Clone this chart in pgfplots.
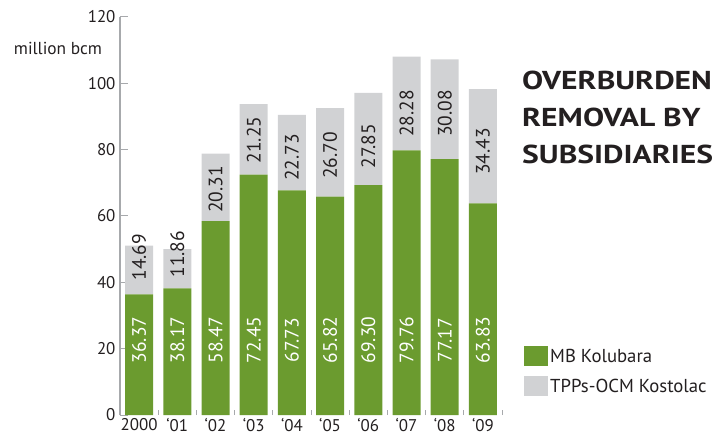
\documentclass[border=0pt]{standalone}
\usepackage{pgfplots}
\pgfplotsset{compat=1.18}
\usepackage{fontspec}
\setmainfont{PT Sans}
\newfontfamily\titlefont[FakeStretch=1.22]{PT Sans}
\definecolor{grn}{HTML}{6B9B2F}
\definecolor{gry}{HTML}{D1D2D4}
\definecolor{axg}{HTML}{A7A9AC}
\definecolor{txt}{HTML}{231F20}
\pgfplotstableread{
x green gray
0 36.37 14.69
1 38.17 11.86
2 58.47 20.31
3 72.45 21.25
4 67.73 22.73
5 65.82 26.70
6 69.30 27.85
7 79.76 28.28
8 77.17 30.08
9 63.83 34.43
}\datatab
\pgfplotstableread{
x y l
0 22.6 36.37
1 22.6 38.17
2 22.6 58.47
3 22.6 72.45
4 22.6 67.73
5 22.6 65.82
6 22.6 69.30
7 22.6 79.76
8 22.6 77.17
9 22.6 63.83
}\greenlab
\pgfplotstableread{
x y l
0 47.6 14.69
1 48.5 11.86
2 68.0 20.31
3 82.9 21.25
4 77.6 22.73
5 78.2 26.70
6 81.1 27.85
7 90.9 28.28
8 90.9 30.08
9 79.4 34.43
}\graylab
\begin{document}
\begin{tikzpicture}
\useasboundingbox (-120bp,-20bp) rectangle (593bp,415bp);
\begin{axis}[
  at={(0,0)}, anchor=south west,
  scale only axis, width=382bp, height=398bp,
  xmin=-0.5, xmax=9.5, ymin=0, ymax=120,
  ybar stacked, bar width=28bp,
  axis lines*=left,
  x axis line style={draw=none},
  y axis line style={axg, line width=1.5bp},
  xtick={0,...,9},
  xticklabels={2000,‘01,‘02,‘03,‘04,‘05,‘06,‘07,‘08,‘09},
  major x tick style={draw=none},
  minor xtick={0.5,1.5,...,9.5},
  minor x tick style={axg, line width=1bp},
  minor tick length=5bp,
  ytick={0,20,...,120},
  major tick length=8bp,
  y tick style={axg, line width=1bp},
  tick label style={font=\fontsize{17}{17}\selectfont, text=txt},
  yticklabel style={xshift=-1bp},
  xticklabel style={yshift=0.5bp},
  /pgf/number format/assume math mode=true,
  clip=false,
  legend cell align=left,
  legend style={at={(1.0576,0.173)}, anchor=north west, draw=none, fill=none,
    inner sep=0pt, row sep=10bp, font=\fontsize{18.8}{18.8}\selectfont, text=txt,
    /tikz/every even column/.style={column sep=6bp}},
  legend image code/.code={\fill[#1] (0bp,-10bp) rectangle (24bp,10bp);},
]
\addplot[fill=grn, draw=none] table[x=x, y=green] {\datatab};
\addlegendentry{MB Kolubara}
\addplot[fill=gry, draw=none] table[x=x, y=gray] {\datatab};
\addlegendentry{TPPs-OCM Kostolac}
\end{axis}
\begin{axis}[
  at={(0,0)}, anchor=south west,
  scale only axis, width=382bp, height=398bp,
  xmin=-0.5, xmax=9.5, ymin=0, ymax=120,
  hide axis, clip=false,
  point meta=explicit symbolic,
]
\addplot[only marks, mark=*, mark size=0pt, mark options={draw=none, fill=none},
  nodes near coords, nodes near coords style={rotate=90, anchor=center, text=white,
  font=\fontsize{19.5}{19.5}\selectfont}] table[x=x, y=y, meta=l] {\greenlab};
\addplot[only marks, mark=*, mark size=0pt, mark options={draw=none, fill=none},
  nodes near coords, nodes near coords style={rotate=90, anchor=center, text=txt,
  font=\fontsize{19.5}{19.5}\selectfont}] table[x=x, y=y, meta=l] {\graylab};
\end{axis}
\node[anchor=center, text=txt, font=\fontsize{17.4}{17.4}\selectfont] at (-62bp,367bp) {million bcm};
\node[anchor=north west, align=left, inner sep=0pt, text=txt,
  font=\titlefont\fontsize{26}{37}\selectfont\bfseries] at (402bp,344bp) {OVERBURDEN\\REMOVAL BY\\SUBSIDIARIES};
\end{tikzpicture}
\end{document}
